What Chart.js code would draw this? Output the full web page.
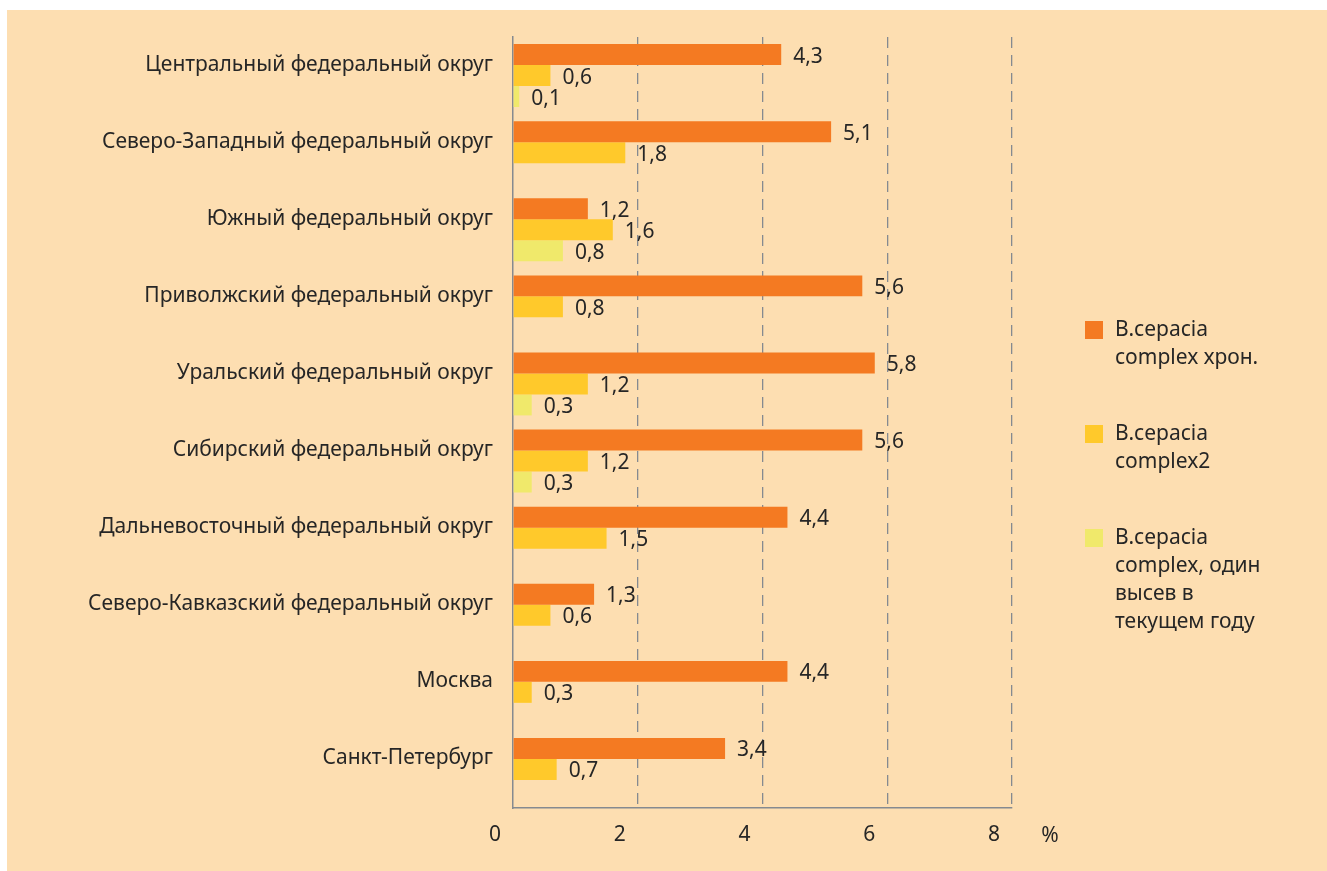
<!DOCTYPE html>
<html lang="ru">
<head>
    <meta charset="UTF-8">
    <title>B.cepacia complex по округам</title>
    <script src="https://cdn.jsdelivr.net/npm/chart.js"></script>
    <style>
        body {
            margin: 0;
            background: #fff;
            font-family: 'Noto Sans', sans-serif;
            overflow: hidden;
        }

        .panel {
            position: absolute;
            left: 7px;
            top: 10px;
            width: 1320px;
            height: 861px;
            background: #fddeb1;
        }

        .legend {
            position: absolute;
            left: 1078px;
            top: 304px;
            width: 182px;
            color: #262626;
            font-size: 21px;
            line-height: 28px;
        }

        .legend-item {
            position: relative;
            padding-left: 30px;
            margin-bottom: 48px;
        }

        .legend-item span.box {
            position: absolute;
            left: 0;
            top: 7px;
            width: 18px;
            height: 18px;
        }
    </style>
</head>
<body>
    <div class="panel">
        <canvas id="chart"></canvas>
        <div class="legend" id="legend"></div>
    </div>
    <script>
        const regions = [
            'Центральный федеральный округ',
            'Северо-Западный федеральный округ',
            'Южный федеральный округ',
            'Приволжский федеральный округ',
            'Уральский федеральный округ',
            'Сибирский федеральный округ',
            'Дальневосточный федеральный округ',
            'Северо-Кавказский федеральный округ',
            'Москва',
            'Санкт-Петербург'
        ];
        const seriesNames = [
            'B.cepacia complex хрон.',
            'B.cepacia complex2',
            'B.cepacia complex, один высев в текущем году'
        ];
        const chronic = [4.3, 5.1, 1.2, 5.6, 5.8, 5.6, 4.4, 1.3, 4.4, 3.4];
        const complex2 = [0.6, 1.8, 1.6, 0.8, 1.2, 1.2, 1.5, 0.6, 0.3, 0.7];
        const singleIsolate = [0.1, null, 0.8, null, 0.3, 0.3, null, null, null, null];
        const xTicks = [0, 2, 4, 6, 8];

        const colors = ['#f47a22', '#ffc92b', '#f0e96b'];
        const textColor = '#262626';
        const fontFamily = "'Noto Sans', sans-serif";

        // подписи значений и знак процента
        const labelsPlugin = {
            id: 'valueLabels',
            afterDatasetsDraw(chart) {
                const ctx = chart.ctx;
                ctx.save();
                ctx.fillStyle = textColor;
                ctx.font = '21px ' + fontFamily;
                ctx.textAlign = 'left';
                ctx.textBaseline = 'middle';
                chart.data.datasets.forEach((ds, i) => {
                    chart.getDatasetMeta(i).data.forEach((bar, j) => {
                        const v = ds.data[j];
                        if (v == null) return;
                        ctx.fillText(String(v).replace('.', ','), bar.x + 12, bar.y + 2);
                    });
                });
                const xs = chart.scales.x;
                ctx.textAlign = 'center';
                ctx.fillText('%', xs.right + 38, xs.top + 28);
                ctx.restore();
            }
        };

        const ctx = document.getElementById('chart').getContext('2d');
        new Chart(ctx, {
            type: 'bar',
            data: {
                labels: regions,
                datasets: [chronic, complex2, singleIsolate].map((d, i) => ({
                    label: seriesNames[i],
                    data: d,
                    backgroundColor: colors[i],
                    categoryPercentage: 0.816,
                    barPercentage: 1
                }))
            },
            options: {
                indexAxis: 'y',
                responsive: true,
                maintainAspectRatio: false,
                animation: false,
                layout: { padding: { top: 27, right: 315, left: 0, bottom: 0 } },
                plugins: {
                    legend: { display: false },
                    tooltip: { enabled: false }
                },
                scales: {
                    y: {
                        afterFit: s => {
                            s.width = 506;
                            s.paddingTop = 0;
                            s.paddingBottom = 0;
                        },
                        grid: { display: false, drawTicks: false },
                        border: { display: true, color: '#858a90', width: 1.5 },
                        ticks: {
                            color: textColor,
                            font: { family: fontFamily, size: 21 },
                            padding: 20,
                            labelOffset: -11
                        }
                    },
                    x: {
                        min: 0,
                        max: 8,
                        afterFit: s => { s.height = 63; },
                        afterBuildTicks: s => { s.ticks = xTicks.map(v => ({ value: v })); },
                        grid: {
                            drawTicks: false,
                            color: c => c.index === 0 ? 'rgba(0,0,0,0)' : '#858a90',
                            lineWidth: 1.3
                        },
                        border: { display: true, color: '#858a90', width: 1.5, dash: [11, 7] },
                        ticks: {
                            color: textColor,
                            font: { family: fontFamily, size: 21 },
                            padding: 14,
                            labelOffset: -18
                        }
                    }
                }
            },
            plugins: [labelsPlugin]
        });

        const legend = document.getElementById('legend');
        seriesNames.forEach((name, i) => {
            const item = document.createElement('div');
            item.className = 'legend-item';
            item.innerHTML = `<span class="box" style="background:${colors[i]}"></span>${name}`;
            legend.appendChild(item);
        });
    </script>
</body>
</html>
